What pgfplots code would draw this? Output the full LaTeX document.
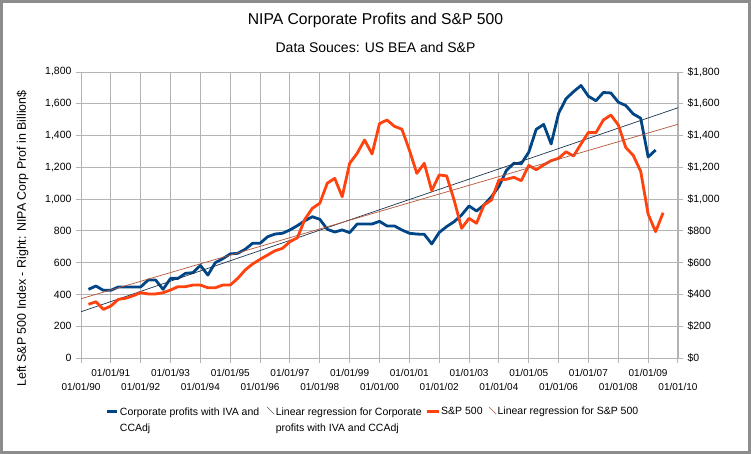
\documentclass[border=0pt]{standalone}
\usepackage{pgfplots}
\pgfplotsset{compat=1.18}
\usepackage{fontspec}
\setmainfont{Liberation Sans}
\definecolor{cblue}{HTML}{004586}
\definecolor{corange}{HTML}{FF420E}
\definecolor{gridc}{HTML}{B3B3B3}
\definecolor{regblue}{HTML}{1C3550}
\definecolor{regorange}{HTML}{B5563A}
\definecolor{framec}{HTML}{8C8C8C}

\begin{document}
\begin{tikzpicture}[x=1pt,y=1pt]
\path[use as bounding box] (0,0) rectangle (751,454);
\fill[white] (0,0) rectangle (751,454);
\draw[line width=3pt, framec] (1.5,1.5) rectangle (749.5,452.5);
\node[font=\fontsize{15.7}{18}\selectfont] at (375.5,434) {NIPA Corporate Profits and S\&P 500};
\node[font=\fontsize{14}{16}\selectfont] at (375.5,406) {Data Souces: US BEA and S\&P};

\begin{axis}[
  at={(81pt,96pt)}, anchor=south west, width=597pt, height=286pt, scale only axis,
  xmin=1990, xmax=2010, ymin=0, ymax=1800,
  axis line style={gridc, line width=0.9pt},
  xtick={1990,...,2010}, minor x tick num=1,
  ytick={0,200,...,1800},
  xtick pos=bottom, ytick pos=left, tick align=outside,
  major tick length=5pt, minor tick length=5pt,
  tick style={gridc, line width=0.9pt},
  xmajorgrids, ymajorgrids,
  major grid style={gridc, line width=0.9pt},
  /pgf/number format/.cd, 1000 sep={,}, assume math mode=true,
  /pgfplots/.cd,
  yticklabel style={font=\fontsize{10.5}{12}\selectfont, xshift=-1pt},
  xticklabel style={font=\fontsize{10}{14}\selectfont, align=center},
  xticklabels={
    {\strut\\\strut 01/01/90}, {\strut 01/01/91},
    {\strut\\\strut 01/01/92}, {\strut 01/01/93},
    {\strut\\\strut 01/01/94}, {\strut 01/01/95},
    {\strut\\\strut 01/01/96}, {\strut 01/01/97},
    {\strut\\\strut 01/01/98}, {\strut 01/01/99},
    {\strut\\\strut 01/01/00}, {\strut 01/01/01},
    {\strut\\\strut 01/01/02}, {\strut 01/01/03},
    {\strut\\\strut 01/01/04}, {\strut 01/01/05},
    {\strut\\\strut 01/01/06}, {\strut 01/01/07},
    {\strut\\\strut 01/01/08}, {\strut 01/01/09},
    {\strut\\\strut 01/01/10}},
  ylabel={Left S\&P 500 Index - Right: NIPA Corp Prof in Billion\$},
  ylabel style={at={(axis description cs:-0.0977,0.418)}, anchor=center, rotate=0, font=\fontsize{12.4}{14}\selectfont},
  legend columns=4,
  legend cell align=left,
  legend style={at={(axis description cs:0.0415,-0.1594)}, anchor=north west, draw=none, fill=none,
    font=\fontsize{10.5}{16}\selectfont, inner sep=0pt, row sep=0pt,
    nodes={inner sep=1pt},
    /tikz/column 2/.style={column sep=6.5pt},
    /tikz/column 4/.style={column sep=2.5pt},
    /tikz/column 6/.style={column sep=5pt}},
]
\addplot[cblue, line width=2.8pt, line join=round,
  legend image code/.code={\draw[cblue, line width=3pt] (0pt,0pt) -- (10pt,0pt);}]
coordinates {
(1990.25,432) (1990.5,453) (1990.75,426) (1991,426) (1991.25,447) (1991.5,447) (1991.75,447) (1992,447)
(1992.25,491) (1992.5,491) (1992.75,432) (1993,501) (1993.25,501) (1993.5,533) (1993.75,537) (1994,583)
(1994.25,522) (1994.5,600) (1994.75,625) (1995,655) (1995.25,659) (1995.5,684) (1995.75,722) (1996,722)
(1996.25,763) (1996.5,780) (1996.75,785) (1997,806) (1997.25,833) (1997.5,864) (1997.75,889) (1998,873)
(1998.25,810) (1998.5,793) (1998.75,806) (1999,789) (1999.25,843) (1999.5,843) (1999.75,843) (2000,860)
(2000.25,831) (2000.5,831) (2000.75,806) (2001,785) (2001.25,780) (2001.5,778) (2001.75,718) (2002,790)
(2002.25,827) (2002.5,858) (2002.75,900) (2003,957) (2003.25,925) (2003.5,963) (2003.75,1015) (2004,1080)
(2004.25,1180) (2004.5,1225) (2004.75,1223) (2005,1295) (2005.25,1439) (2005.5,1470) (2005.75,1347) (2006,1540)
(2006.25,1632) (2006.5,1676) (2006.75,1715) (2007,1647) (2007.25,1619) (2007.5,1671) (2007.75,1668) (2008,1610)
(2008.25,1589) (2008.5,1536) (2008.75,1509) (2009,1265) (2009.25,1309)
};
\addlegendentry{\begin{tabular}[t]{@{}l@{}}Corporate profits with IVA and\\CCAdj\end{tabular}}
\addplot[regblue, line width=0.7pt,
  legend image code/.code={\path[draw=none] (0pt,0pt) -- (8pt,0pt); \draw[regblue, line width=0.5pt] (0.5pt,4pt) -- (7.5pt,-3pt);}]
coordinates {(1990,291) (2010,1575)};
\addlegendentry{\begin{tabular}[t]{@{}l@{}}Linear regression for Corporate\\profits with IVA and CCAdj\end{tabular}}
\addplot[corange, line width=2.8pt, line join=round,
  legend image code/.code={\draw[corange, line width=3pt] (0pt,0pt) -- (12pt,0pt);}]
coordinates {
(1990.25,338) (1990.5,354) (1990.75,306) (1991,327) (1991.25,369) (1991.5,376) (1991.75,392) (1992,411)
(1992.25,403) (1992.5,403) (1992.75,411) (1993,428) (1993.25,449) (1993.5,449) (1993.75,459) (1994,459)
(1994.25,442) (1994.5,442) (1994.75,459) (1995,459) (1995.25,501) (1995.5,554) (1995.75,592) (1996,621)
(1996.25,648) (1996.5,675) (1996.75,690) (1997,732) (1997.25,757) (1997.5,873) (1997.75,942) (1998,974)
(1998.25,1100) (1998.5,1131) (1998.75,1015) (1999,1225) (1999.25,1288) (1999.5,1372) (1999.75,1284) (2000,1475)
(2000.25,1498) (2000.5,1458) (2000.75,1440) (2001,1309) (2001.25,1162) (2001.5,1225) (2001.75,1053) (2002,1152)
(2002.25,1146) (2002.5,994) (2002.75,816) (2003,879) (2003.25,848) (2003.5,963) (2003.75,994) (2004,1120)
(2004.25,1125) (2004.5,1137) (2004.75,1116) (2005,1212) (2005.25,1185) (2005.5,1215) (2005.75,1242) (2006,1257)
(2006.25,1298) (2006.5,1271) (2006.75,1347) (2007,1420) (2007.25,1418) (2007.5,1498) (2007.75,1529) (2008,1467)
(2008.25,1325) (2008.5,1275) (2008.75,1175) (2009,905) (2009.25,795) (2009.5,914)
};
\addlegendentry{S\&P 500}
\addplot[regorange, line width=0.7pt,
  legend image code/.code={\path[draw=none] (0pt,0pt) -- (8pt,0pt); \draw[regorange, line width=0.5pt] (0.5pt,4pt) -- (7.5pt,-3pt);}]
coordinates {(1990,373) (2010,1471)};
\addlegendentry{Linear regression for S\&P 500}
\end{axis}

\begin{axis}[
  at={(81pt,96pt)}, anchor=south west, width=597pt, height=286pt, scale only axis,
  xmin=1990, xmax=2010, ymin=0, ymax=1800,
  axis x line=none, axis y line*=right,
  axis line style={gridc, line width=0.9pt},
  ytick={0,200,...,1800}, tick align=outside, major tick length=5pt,
  tick style={gridc, line width=0.9pt},
  /pgf/number format/.cd, 1000 sep={,}, assume math mode=true,
  /pgfplots/.cd,
  yticklabel={\$\pgfmathprintnumber{\tick}},
  yticklabel style={font=\fontsize{10.5}{12}\selectfont, xshift=1pt},
]
\addplot[draw=none] coordinates {(1990,0) (2010,1800)};
\end{axis}
\end{tikzpicture}
\end{document}
